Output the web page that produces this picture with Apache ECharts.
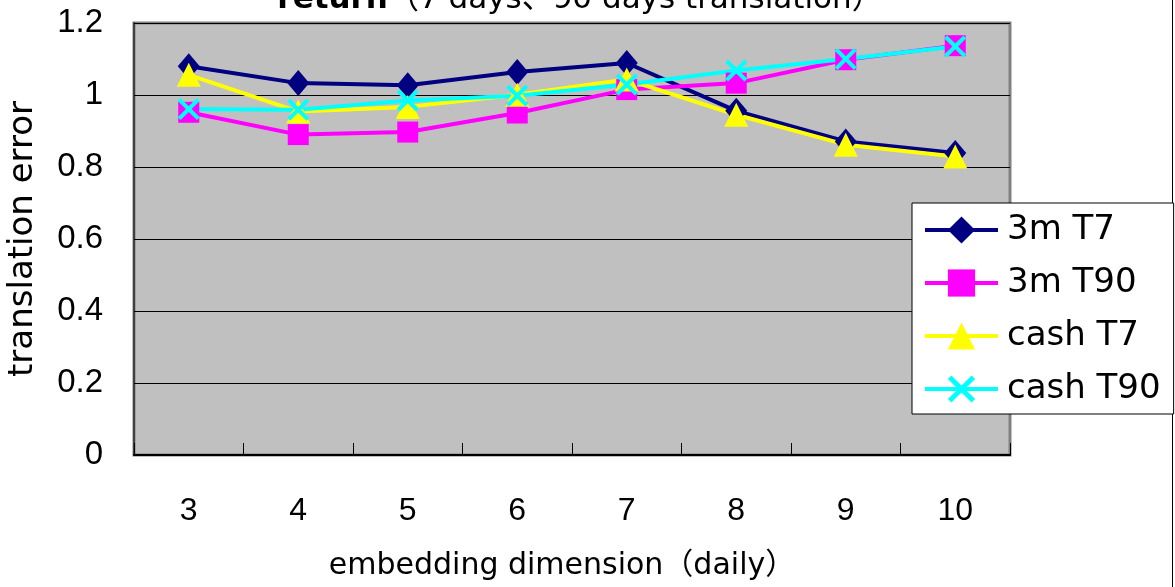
<!DOCTYPE html>
<html>
<head>
<meta charset="utf-8">
<title>return（7 days、90 days translation）</title>
<script src="https://cdn.jsdelivr.net/npm/echarts@6/dist/echarts.min.js"></script>
<style>
  html, body { margin: 0; padding: 0; background: #ffffff; }
  #chart { width: 1175px; height: 587px; }
</style>
</head>
<body>
<div id="chart"></div>
<script>
// Embedding dimensions on the x axis
const dimensions = ['3', '4', '5', '6', '7', '8', '9', '10'];

// Translation error per series
const m3T7   = [1.080, 1.033, 1.027, 1.064, 1.089, 0.956, 0.871, 0.839];
const m3T90  = [0.952, 0.890, 0.897, 0.950, 1.015, 1.033, 1.098, 1.137];
const cashT7 = [1.056, 0.954, 0.967, 1.001, 1.043, 0.945, 0.862, 0.829];
const cashT90 = [0.961, 0.959, 0.985, 0.998, 1.029, 1.068, 1.100, 1.135];

const seriesNames = ['3m T7', '3m T90', 'cash T7', 'cash T90'];

const TEXT_FONT = '"DejaVu Sans", "Noto Sans CJK JP", sans-serif';
const NUM_FONT = '"Liberation Sans", Arial, sans-serif';

// filled "x" cross shape
const crossPath = 'path://M0,1.3L1.3,0L5,3.7L8.7,0L10,1.3L6.3,5L10,8.7L8.7,10L5,6.3L1.3,10L0,8.7L3.7,5Z';

function lineSeries(name, data, color, symbol, size) {
  return {
    name: name,
    type: 'line',
    data: data,
    symbol: symbol,
    symbolSize: size,
    showAllSymbol: true,
    lineStyle: { color: color, width: 4 },
    itemStyle: { color: color },
    emphasis: { disabled: true },
    animation: false
  };
}

const chart = echarts.init(document.getElementById('chart'), null, { renderer: 'canvas' });

chart.setOption({
  backgroundColor: '#ffffff',
  animation: false,
  title: {
    text: '{b|return}{n|（7 days、90 days translation）}',
    left: 580,
    textAlign: 'center',
    top: -16,
    padding: 0,
    textStyle: {
      fontWeight: 'normal',
      rich: {
        b: { fontFamily: TEXT_FONT, fontSize: 31, fontWeight: 'bold', color: '#000' },
        n: { fontFamily: TEXT_FONT, fontSize: 31, fontWeight: 'normal', color: '#000' }
      }
    }
  },
  grid: {
    left: 134,
    right: 165,
    top: 23,
    bottom: 132,
    outerBoundsMode: 'none',
    containLabel: false,
    show: true,
    backgroundColor: '#c0c0c0',
    borderColor: '#808080',
    borderWidth: 3
  },
  legend: {
    data: seriesNames,
    orient: 'vertical',
    left: 912,
    top: 203,
    itemWidth: 73,
    itemHeight: 34,
    itemGap: 19,
    padding: [10, 13, 8, 11],
    backgroundColor: '#ffffff',
    borderColor: '#000000',
    borderWidth: 1,
    selectedMode: false,
    lineStyle: { width: 4 },
    textStyle: {
      fontFamily: TEXT_FONT,
      fontSize: 34,
      lineHeight: 34,
      color: '#000',
      padding: [0, 0, 0, 4]
    }
  },
  xAxis: {
    type: 'category',
    data: dimensions,
    boundaryGap: true,
    name: 'embedding dimension（daily）',
    nameLocation: 'middle',
    nameGap: 96,
    nameTextStyle: { fontFamily: TEXT_FONT, fontSize: 30, color: '#000', padding: [0, 20, 0, 0] },
    axisLine: { show: true, lineStyle: { color: '#000', width: 2 } },
    axisTick: { show: true, inside: true, length: 12, lineStyle: { color: '#000', width: 1 } },
    axisLabel: { fontFamily: NUM_FONT, fontSize: 32, color: '#000', margin: 40 },
    splitLine: { show: false }
  },
  yAxis: {
    type: 'value',
    min: 0,
    max: 1.2,
    interval: 0.2,
    name: 'translation error',
    nameLocation: 'middle',
    nameRotate: 90,
    nameGap: 94,
    nameTextStyle: { fontFamily: TEXT_FONT, fontSize: 34, color: '#000' },
    axisLine: { show: true, lineStyle: { color: '#404040', width: 2 } },
    axisTick: { show: true, inside: true, length: 12, lineStyle: { color: '#000', width: 1 } },
    axisLabel: {
      fontFamily: NUM_FONT,
      fontSize: 33,
      color: '#000',
      margin: 31,
      formatter: function (v) { return String(Math.round(v * 10) / 10); }
    },
    splitLine: { show: true, lineStyle: { color: '#000', width: 1 } }
  },
  graphic: [
    {
      type: 'line',
      silent: true,
      shape: { x1: 1172.5, y1: 0, x2: 1172.5, y2: 587 },
      style: { stroke: '#000', lineWidth: 1 }
    }
  ],
  series: [
    lineSeries(seriesNames[0], m3T7, '#000080', 'diamond', [22, 26]),
    lineSeries(seriesNames[1], m3T90, '#ff00ff', 'rect', 21),
    lineSeries(seriesNames[2], cashT7, '#ffff00', 'triangle', 24),
    lineSeries(seriesNames[3], cashT90, '#00ffff', crossPath, 22)
  ]
});
</script>
</body>
</html>
